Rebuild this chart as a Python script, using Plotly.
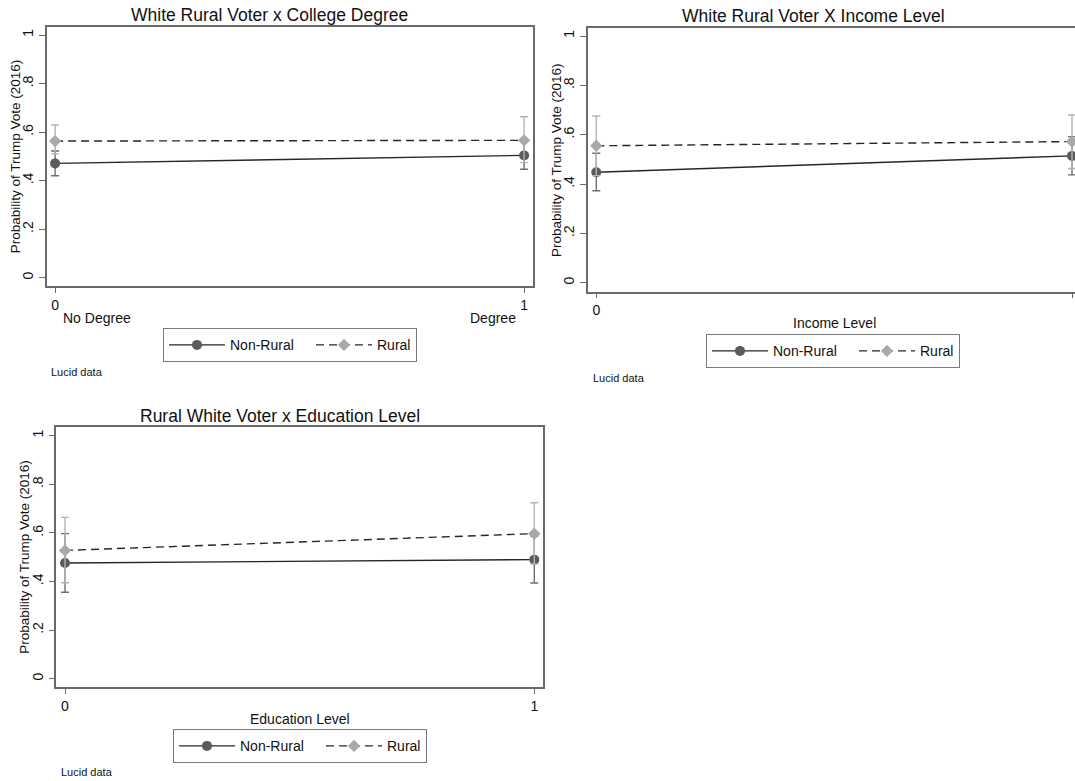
import plotly.graph_objects as go

W, H = 1075, 781

# ---------------- data ----------------
x_vals = [0, 1]

college_nonrural = [0.471, 0.504]
college_nonrural_lo = [0.420, 0.447]
college_nonrural_hi = [0.522, 0.561]
college_rural = [0.563, 0.566]
college_rural_lo = [0.510, 0.474]
college_rural_hi = [0.629, 0.663]

income_nonrural = [0.448, 0.514]
income_nonrural_lo = [0.373, 0.437]
income_nonrural_hi = [0.525, 0.592]
income_rural = [0.555, 0.572]
income_rural_lo = [0.434, 0.463]
income_rural_hi = [0.676, 0.680]

edu_nonrural = [0.476, 0.490]
edu_nonrural_lo = [0.356, 0.394]
edu_nonrural_hi = [0.597, 0.586]
edu_rural = [0.528, 0.597]
edu_rural_lo = [0.395, 0.472]
edu_rural_hi = [0.664, 0.724]

y_tickvals = [0, 0.2, 0.4, 0.6, 0.8, 1]
y_ticktext = ["0", ".2", ".4", ".6", ".8", "1"]
x_ticktext = ["0", "1"]
series_names = ["Non-Rural", "Rural"]
panel_titles = ["White Rural Voter x College Degree",
                "White Rural Voter X Income Level",
                "Rural White Voter x Education Level"]
x_titles = ["", "Income Level", "Education Level"]
college_labels = ["No Degree", "Degree"]
y_title = "Probability of Trump Vote (2016)"
note = "Lucid data"

FONT = "Liberation Sans, Arial, sans-serif"
TXT = "#111111"
AX = "#6a6a6a"


def fx(px):
    return px / W


def fy(py):
    return 1 - py / H


# pixel geometry for each panel (layout only)
panels = [
    dict(data=(college_nonrural, college_nonrural_lo, college_nonrural_hi,
               college_rural, college_rural_lo, college_rural_hi),
         left=46.5, right=533, top=26.7, bottom=286, x0=55.1, x1=524.1,
         y1=35, y0=277.7, title_x=269.6, title_y=15, ytitle_x=15,
         xtitle_x=None, xtitle_y=318.5, legend=(163, 345.3),
         note=(48.9, 371.7), mirror_y=True),
    dict(data=(income_nonrural, income_nonrural_lo, income_nonrural_hi,
               income_rural, income_rural_lo, income_rural_hi),
         left=587.8, right=1075, top=28.3, bottom=291.7, x0=596.3, x1=1072,
         y1=36, y0=282.7, title_x=813.7, title_y=16, ytitle_x=556,
         xtitle_x=834, xtitle_y=323.3, legend=(706, 351.3),
         note=(590.5, 377.7), mirror_y=False),
    dict(data=(edu_nonrural, edu_nonrural_lo, edu_nonrural_hi,
               edu_rural, edu_rural_lo, edu_rural_hi),
         left=56.4, right=542.9, top=427.3, bottom=687.3, x0=65, x1=534.3,
         y1=435.7, y0=678.7, title_x=279.5, title_y=415.7, ytitle_x=24.5,
         xtitle_x=300, xtitle_y=719, legend=(173, 746.3),
         note=(59, 772.3), mirror_y=True),
]

fig = go.Figure()
annotations = []
layout_axes = {}

for i, p in enumerate(panels):
    suf = "" if i == 0 else str(i + 1)
    xa, ya = "x" + suf, "y" + suf
    leg = "legend" + suf
    nr, nr_lo, nr_hi, ru, ru_lo, ru_hi = p["data"]

    fig.add_trace(go.Scatter(
        x=x_vals, y=nr, name=series_names[0], mode="lines+markers",
        line=dict(color="#262626", width=1.4),
        marker=dict(symbol="circle", size=10, color="#5b5b5b"),
        error_y=dict(type="data", symmetric=False,
                     array=[h - m for h, m in zip(nr_hi, nr)],
                     arrayminus=[m - l for m, l in zip(nr, nr_lo)],
                     color="#6e6e6e", thickness=1.4, width=4),
        xaxis=xa, yaxis=ya, legend=leg, legendwidth=76, showlegend=True))
    fig.add_trace(go.Scatter(
        x=x_vals, y=ru, name=series_names[1], mode="lines+markers",
        line=dict(color="#262626", width=1.4, dash="8px,5px"),
        marker=dict(symbol="diamond", size=9.5, color="#a9a9a9"),
        error_y=dict(type="data", symmetric=False,
                     array=[h - m for h, m in zip(ru_hi, ru)],
                     arrayminus=[m - l for m, l in zip(ru, ru_lo)],
                     color="#b4b4b4", thickness=1.4, width=4),
        xaxis=xa, yaxis=ya, legend=leg, showlegend=True))

    xs = p["x1"] - p["x0"]
    ys = p["y0"] - p["y1"]
    xr = [(p["left"] - p["x0"]) / xs, 1 + (p["right"] - p["x1"]) / xs]
    yr = [-(p["bottom"] - p["y0"]) / ys, 1 + (p["y1"] - p["top"]) / ys]

    layout_axes["xaxis" + suf] = dict(
        domain=[fx(p["left"]), fx(p["right"])], range=xr, anchor=ya,
        tickmode="array", tickvals=x_vals, ticktext=x_ticktext,
        ticks="outside", ticklen=5, tickwidth=1.3, tickcolor=AX,
        showline=True, linecolor=AX, linewidth=1.5, mirror=True,
        showgrid=False, zeroline=False,
        tickfont=dict(family=FONT, size=14, color=TXT))
    layout_axes["yaxis" + suf] = dict(
        domain=[fy(p["bottom"]), fy(p["top"])], range=yr, anchor=xa,
        tickmode="array", tickvals=y_tickvals, ticktext=y_ticktext,
        tickangle=-90, ticks="outside", ticklen=6, tickwidth=1.3,
        tickcolor=AX, showline=True, linecolor=AX, linewidth=1.5,
        mirror=p["mirror_y"], showgrid=False, zeroline=False,
        tickfont=dict(family=FONT, size=14, color=TXT))

    layout_axes[leg] = dict(
        orientation="h", x=fx(p["legend"][0]), y=fy(p["legend"][1]),
        xanchor="left", yanchor="middle", bordercolor="#7a7a7a",
        borderwidth=1, bgcolor="white", itemwidth=56,
        font=dict(family=FONT, size=14, color=TXT))

    annotations.append(dict(
        text=panel_titles[i], x=fx(p["title_x"]), y=fy(p["title_y"]),
        xref="paper", yref="paper", xanchor="center", yanchor="middle",
        showarrow=False, font=dict(family=FONT, size=17.5, color=TXT)))
    annotations.append(dict(
        text=y_title, x=fx(p["ytitle_x"]), y=fy((p["top"] + p["bottom"]) / 2),
        xref="paper", yref="paper", xanchor="center", yanchor="middle",
        textangle=-90, showarrow=False,
        font=dict(family=FONT, size=13.5, color=TXT)))
    if x_titles[i]:
        annotations.append(dict(
            text=x_titles[i], x=fx(p["xtitle_x"]),
            y=fy(p["xtitle_y"]), xref="paper", yref="paper",
            xanchor="center", yanchor="middle", showarrow=False,
            font=dict(family=FONT, size=14, color=TXT)))
    else:
        annotations.append(dict(
            text=college_labels[0], x=x_vals[0], xref=xa, xshift=6,
            y=fy(p["xtitle_y"]), yref="paper", xanchor="left",
            yanchor="middle", showarrow=False,
            font=dict(family=FONT, size=14, color=TXT)))
        annotations.append(dict(
            text=college_labels[1], x=x_vals[1], xref=xa, xshift=-6,
            y=fy(p["xtitle_y"]), yref="paper", xanchor="right",
            yanchor="middle", showarrow=False,
            font=dict(family=FONT, size=14, color=TXT)))
    annotations.append(dict(
        text=note, x=fx(p["note"][0]), y=fy(p["note"][1]),
        xref="paper", yref="paper", xanchor="left", yanchor="middle",
        showarrow=False, font=dict(family=FONT, size=11, color=TXT)))

fig.update_layout(
    width=W, height=H, margin=dict(l=0, r=0, t=0, b=0),
    paper_bgcolor="white", plot_bgcolor="white",
    annotations=annotations, **layout_axes)

fig.write_html("out.html")
